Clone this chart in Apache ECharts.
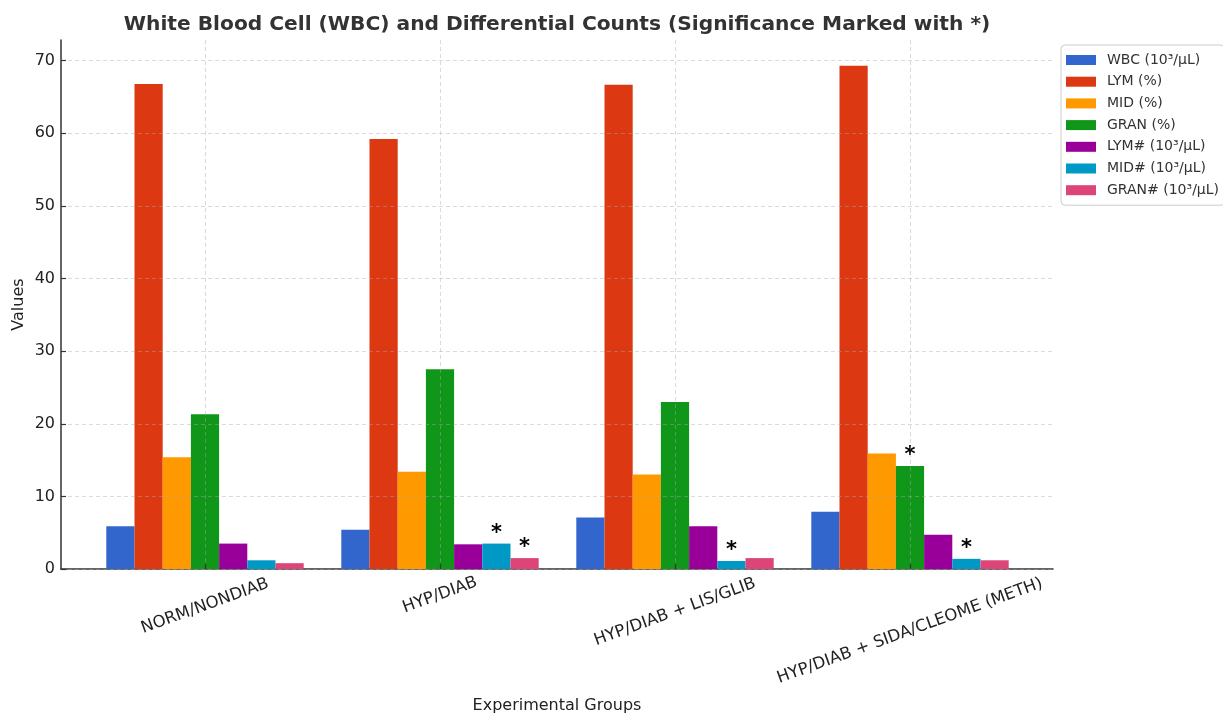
<!DOCTYPE html>
<html>
<head>
<meta charset="utf-8">
<script src="https://cdn.jsdelivr.net/npm/echarts@6/dist/echarts.min.js"></script>
<style>
html,body{margin:0;padding:0;background:#fff;}
#chart{width:1223px;height:713px;}
</style>
</head>
<body>
<div id="chart"></div>
<script>
// ---- data ----
var categories = ['NORM/NONDIAB', 'HYP/DIAB', 'HYP/DIAB + LIS/GLIB', 'HYP/DIAB + SIDA/CLEOME (METH)'];
var seriesNames = ['WBC (10³/μL)', 'LYM (%)', 'MID (%)', 'GRAN (%)', 'LYM# (10³/μL)', 'MID# (10³/μL)', 'GRAN# (10³/μL)'];
var wbc     = [5.9, 5.4, 7.1, 7.9];
var lym     = [66.8, 59.2, 66.7, 69.3];
var mid     = [15.4, 13.4, 13.0, 15.9];
var gran    = [21.3, 27.5, 23.0, 14.2];
var lymAbs  = [3.5, 3.4, 5.9, 4.7];
var midAbs  = [1.2, 3.5, 1.1, 1.4];
var granAbs = [0.8, 1.5, 1.5, 1.2];
// significance markers (*)
var sigWbc     = [false, false, false, false];
var sigLym     = [false, false, false, false];
var sigMid     = [false, false, false, false];
var sigGran    = [false, false, false, true];
var sigLymAbs  = [false, false, false, false];
var sigMidAbs  = [false, true, true, true];
var sigGranAbs = [false, true, false, false];
var yTicks = [0, 10, 20, 30, 40, 50, 60, 70];

// ---- styling ----
var colors = ['#3366cc', '#dc3912', '#ff9900', '#109618', '#990099', '#0099c6', '#dd4477'];
var allValues = [wbc, lym, mid, gran, lymAbs, midAbs, granAbs];
var allSig = [sigWbc, sigLym, sigMid, sigGran, sigLymAbs, sigMidAbs, sigGranAbs];
var FONT = 'DejaVu Sans';
var YMAX = 72.85;
// label vertical shift (px) to mimic centred rotated labels
var labelShift = [11, 0, 17, 36];
var ang = 20 * Math.PI / 180;
var rich = { t: { fontSize: 16.5, fontFamily: FONT, color: '#222', lineHeight: 19 } };
labelShift.forEach(function (d, i) {
  rich['s' + i] = { lineHeight: Math.max(0.01, 2 * d * Math.cos(ang)), fontSize: 1 };
  rich['w' + i] = { width: 2 * d * Math.sin(ang), fontSize: 1 };
});

var chart = echarts.init(document.getElementById('chart'), null, { renderer: 'canvas' });

var series = seriesNames.map(function (name, si) {
  return {
    name: name,
    type: 'bar',
    xAxisIndex: 1,
    yAxisIndex: 1,
    data: allValues[si],
    barWidth: 28.2,
    barGap: '0%',
    clip: false,
    itemStyle: { color: colors[si] },
    label: {
      show: true,
      position: 'top',
      distance: 0,
      fontFamily: FONT,
      fontSize: 21,
      fontWeight: 'bold',
      color: '#000',
      formatter: function (p) { return allSig[si][p.dataIndex] ? '*' : ''; }
    }
  };
});

var option = {
  animation: false,
  backgroundColor: '#fff',
  title: {
    text: 'White Blood Cell (WBC) and Differential Counts (Significance Marked with *)',
    left: 557,
    textAlign: 'center',
    top: 15,
    padding: 0,
    textStyle: { fontFamily: FONT, fontSize: 20.2, fontWeight: 'bold', color: '#333' }
  },
  legend: {
    orient: 'vertical',
    left: 1061,
    top: 45,
    padding: [8, 6, 8, 5],
    itemWidth: 30,
    itemHeight: 10,
    itemGap: 7.7,
    icon: 'rect',
    borderColor: '#cccccc',
    borderWidth: 1,
    borderRadius: 4,
    backgroundColor: '#fff',
    textStyle: { fontFamily: FONT, fontSize: 14, color: '#333', lineHeight: 14, padding: [0, 0, 0, 6] },
    data: seriesNames
  },
  grid: [
    { left: 61, right: 170, top: 40, bottom: 144, containLabel: false, outerBoundsMode: 'none' },
    { left: 205, right: 313, top: 40, bottom: 144, containLabel: false, outerBoundsMode: 'none' }
  ],
  xAxis: [
    {
      gridIndex: 0,
      type: 'value',
      min: 0, max: 1,
      axisLine: { show: true, lineStyle: { color: '#333', width: 1.5 } },
      axisTick: { show: false },
      axisLabel: { show: false },
      splitLine: { show: false },
      name: 'Experimental Groups',
      nameLocation: 'middle',
      nameGap: 129,
      nameMoveOverlap: false,
      nameTextStyle: { fontFamily: FONT, fontSize: 16, color: '#222' }
    },
    {
      gridIndex: 1,
      type: 'category',
      data: categories,
      boundaryGap: false,
      z: 3,
      axisLine: { show: false },
      axisTick: { show: true, inside: true, length: 5, lineStyle: { color: '#333', width: 1.2 } },
      splitLine: { show: true, lineStyle: { color: 'rgba(170,170,170,0.55)', type: [4, 3], width: 0.8 } },
      axisLabel: {
        interval: 0,
        rotate: 20,
        align: 'center',
        verticalAlign: 'middle',
        margin: 26,
        rich: rich,
        formatter: function (value, index) {
          return '{s' + index + '| }\n{t|' + value + '}{w' + index + '| }';
        }
      }
    }
  ],
  yAxis: [
    {
      gridIndex: 0,
      type: 'value',
      min: 0, max: YMAX,
      interval: 10,
      z: 3,
      axisLine: { show: true, lineStyle: { color: '#333', width: 1.5 } },
      axisTick: { show: true, inside: true, length: 5, lineStyle: { color: '#333', width: 1.2 } },
      axisLabel: { showMaxLabel: false, margin: 6, fontFamily: FONT, fontSize: 16, color: '#222' },
      splitLine: { show: true, showMaxLine: false, lineStyle: { color: 'rgba(170,170,170,0.55)', type: [4, 3], width: 0.8 } },
      name: 'Values',
      nameLocation: 'middle',
      nameGap: 34,
      nameMoveOverlap: false,
      nameTextStyle: { fontFamily: FONT, fontSize: 16, color: '#222' }
    },
    {
      gridIndex: 1,
      type: 'value',
      min: 0, max: YMAX,
      show: false
    }
  ],
  series: series
};
chart.setOption(option);
</script>
</body>
</html>
